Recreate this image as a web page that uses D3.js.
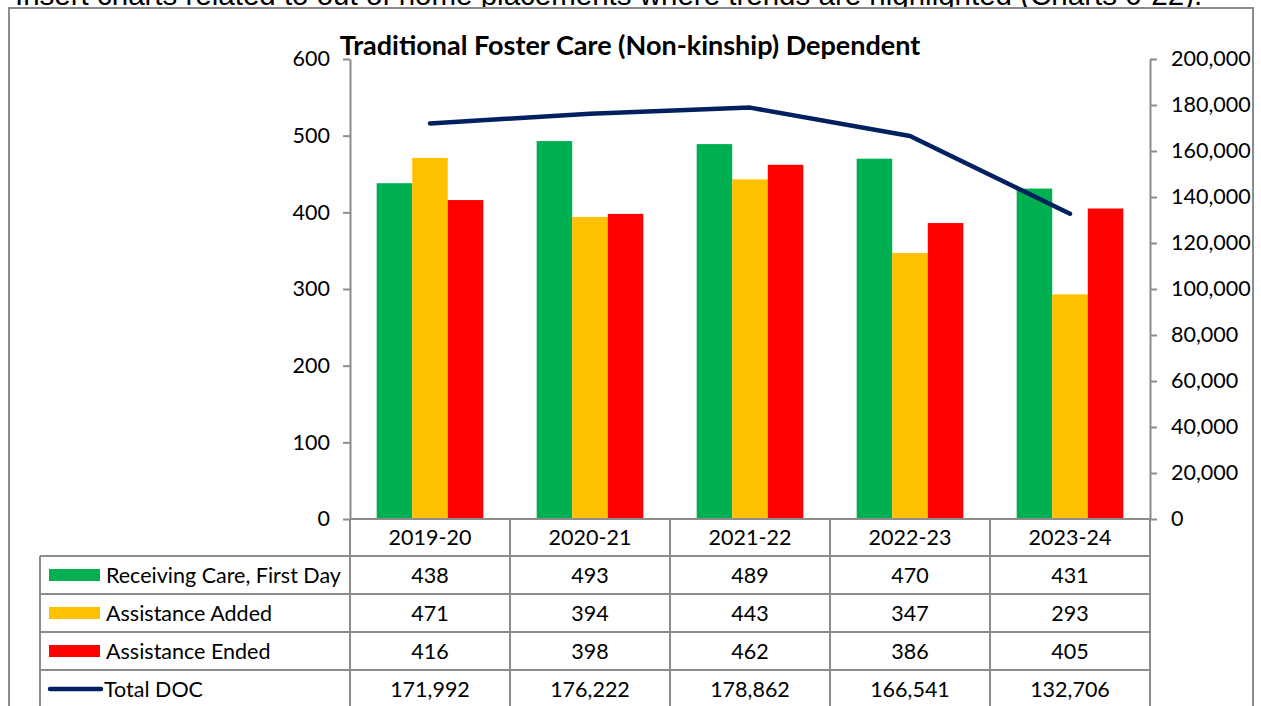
<!DOCTYPE html>
<html>
<head>
<meta charset="utf-8">
<script src="https://cdn.jsdelivr.net/npm/d3@7"></script>
<style>
  html, body { margin: 0; padding: 0; background: #fff; overflow: hidden; }
  text { font-family: "Lato", "Liberation Sans", sans-serif; fill: #000; }
</style>
</head>
<body>
<div id="chart-box"></div>
<script>
// chart data
const years = ["2019-20", "2020-21", "2021-22", "2022-23", "2023-24"];
const seriesNames = ["Receiving Care, First Day", "Assistance Added", "Assistance Ended"];
const receivingCare = [438, 493, 489, 470, 431];
const assistanceAdded = [471, 394, 443, 347, 293];
const assistanceEnded = [416, 398, 462, 386, 405];
const lineName = "Total DOC";
const totalDOC = [171992, 176222, 178862, 166541, 132706];
const leftTicks = [0, 100, 200, 300, 400, 500, 600];
const rightTicks = [0, 20000, 40000, 60000, 80000, 100000, 120000, 140000, 160000, 180000, 200000];
const colors = ["#00B050", "#FFC000", "#FF0000"];
const lineColor = "#002060";

const w = 1261, h = 706;
const gridCol = "#8c8c8c";
const fs = "21.5px";

const svg = d3.select("#chart-box")
  .append("svg")
  .attr("width", w)
  .attr("height", h)
  .style("display", "block");

// cut-off document text above the chart
svg.append("text")
  .attr("x", 15)
  .attr("y", 5)
  .style("font-family", "Liberation Sans, Arial, sans-serif")
  .style("font-size", "29.5px")
  .text("Insert charts related to out of home placements where trends are highlighted (Charts 6-22).");

// chart frame
svg.append("rect")
  .attr("x", 9).attr("y", 8)
  .attr("width", 1244).attr("height", 720)
  .attr("fill", "#fff")
  .attr("stroke", gridCol)
  .attr("stroke-width", 2);

// title
svg.append("text")
  .attr("x", 630)
  .attr("y", 55)
  .attr("text-anchor", "middle")
  .style("font-size", "27px")
  .style("font-weight", "bold")
  .text("Traditional Foster Care (Non-kinship) Dependent");

// scales
const plotL = 350, plotR = 1150, plotT = 59, plotB = 519;
const xScale = d3.scaleBand().domain(years).range([plotL, plotR]);
const groupW = xScale.bandwidth() * 3 / 4.5;
const x1 = d3.scaleBand().domain([0, 1, 2])
  .range([(xScale.bandwidth() - groupW) / 2, (xScale.bandwidth() + groupW) / 2]);
const yScale = d3.scaleLinear().domain([0, 600]).range([plotB, plotT]);
const yRight = d3.scaleLinear().domain([0, 200000]).range([plotB, plotT]);

// bars
const barData = [receivingCare, assistanceAdded, assistanceEnded];
barData.forEach((vals, s) => {
  svg.append("g").selectAll("rect")
    .data(vals)
    .enter()
    .append("rect")
    .attr("x", (d, i) => xScale(years[i]) + x1(s))
    .attr("width", x1.bandwidth())
    .attr("y", d => yScale(d))
    .attr("height", d => plotB - yScale(d))
    .attr("fill", colors[s]);
});

// axes
const yAxis = d3.axisLeft(yScale).tickValues(leftTicks).tickSize(7).tickSizeOuter(0).tickPadding(13);
const gl = svg.append("g")
  .attr("transform", "translate(" + plotL + ",0)")
  .call(yAxis);
const yAxisR = d3.axisRight(yRight).tickValues(rightTicks).tickSize(7).tickSizeOuter(0)
  .tickPadding(14).tickFormat(d3.format(","));
const gr = svg.append("g")
  .attr("transform", "translate(" + plotR + ",0)")
  .call(yAxisR);
[gl, gr].forEach(g => {
  g.select(".domain").attr("stroke", gridCol).attr("stroke-width", 2);
  g.selectAll(".tick line").attr("stroke", gridCol).attr("stroke-width", 2);
  g.selectAll(".tick text").style("font-size", fs).style("font-family", "Lato, sans-serif").attr("fill", "#000");
});

// line
const line = d3.line()
  .x((d, i) => xScale(years[i]) + xScale.bandwidth() / 2)
  .y(d => yRight(d));
svg.append("path")
  .datum(totalDOC)
  .attr("d", line)
  .attr("fill", "none")
  .attr("stroke", lineColor)
  .attr("stroke-width", 4.5)
  .attr("stroke-linecap", "round")
  .attr("stroke-linejoin", "round");

// data table
const tabLeft = 40;
const rowEdges = [519, 556, 594, 632, 670, 708];
const table = svg.append("g");
// horizontal lines
rowEdges.forEach((y, i) => {
  table.append("line")
    .attr("x1", i === 0 ? plotL : tabLeft).attr("x2", plotR)
    .attr("y1", y).attr("y2", y)
    .attr("stroke", gridCol).attr("stroke-width", 2);
});
// vertical lines
years.forEach(c => {
  table.append("line")
    .attr("x1", xScale(c)).attr("x2", xScale(c))
    .attr("y1", plotB).attr("y2", 710)
    .attr("stroke", gridCol).attr("stroke-width", 2);
});
table.append("line")
  .attr("x1", plotR).attr("x2", plotR).attr("y1", plotB).attr("y2", 710)
  .attr("stroke", gridCol).attr("stroke-width", 2);
table.append("line")
  .attr("x1", tabLeft).attr("x2", tabLeft).attr("y1", 556).attr("y2", 710)
  .attr("stroke", gridCol).attr("stroke-width", 2);

// header
table.selectAll(".hdr")
  .data(years)
  .enter()
  .append("text")
  .attr("x", d => xScale(d) + xScale.bandwidth() / 2)
  .attr("y", 545)
  .attr("text-anchor", "middle")
  .style("font-size", fs)
  .text(d => d);

const rows = [
  { name: seriesNames[0], vals: receivingCare, fmt: d3.format("d"), col: colors[0] },
  { name: seriesNames[1], vals: assistanceAdded, fmt: d3.format("d"), col: colors[1] },
  { name: seriesNames[2], vals: assistanceEnded, fmt: d3.format("d"), col: colors[2] },
  { name: lineName, vals: totalDOC, fmt: d3.format(","), col: lineColor, isLine: true }
];
rows.forEach((r, k) => {
  const mid = (rowEdges[k + 1] + rowEdges[k + 2]) / 2;
  if (r.isLine) {
    table.append("line")
      .attr("x1", 50).attr("x2", 101).attr("y1", mid).attr("y2", mid)
      .attr("stroke", r.col).attr("stroke-width", 4.5).attr("stroke-linecap", "round");
  } else {
    table.append("rect")
      .attr("x", 49).attr("y", mid - 6)
      .attr("width", 51).attr("height", 12)
      .attr("fill", r.col);
  }
  table.append("text")
    .attr("x", r.isLine ? 104 : 106)
    .attr("y", mid + 7.5)
    .style("font-size", fs)
    .text(r.name);
  r.vals.forEach((v, i) => {
    table.append("text")
      .attr("x", xScale(years[i]) + xScale.bandwidth() / 2)
      .attr("y", mid + 7.5)
      .attr("text-anchor", "middle")
      .style("font-size", fs)
      .text(r.fmt(v));
  });
});
</script>
</body>
</html>
